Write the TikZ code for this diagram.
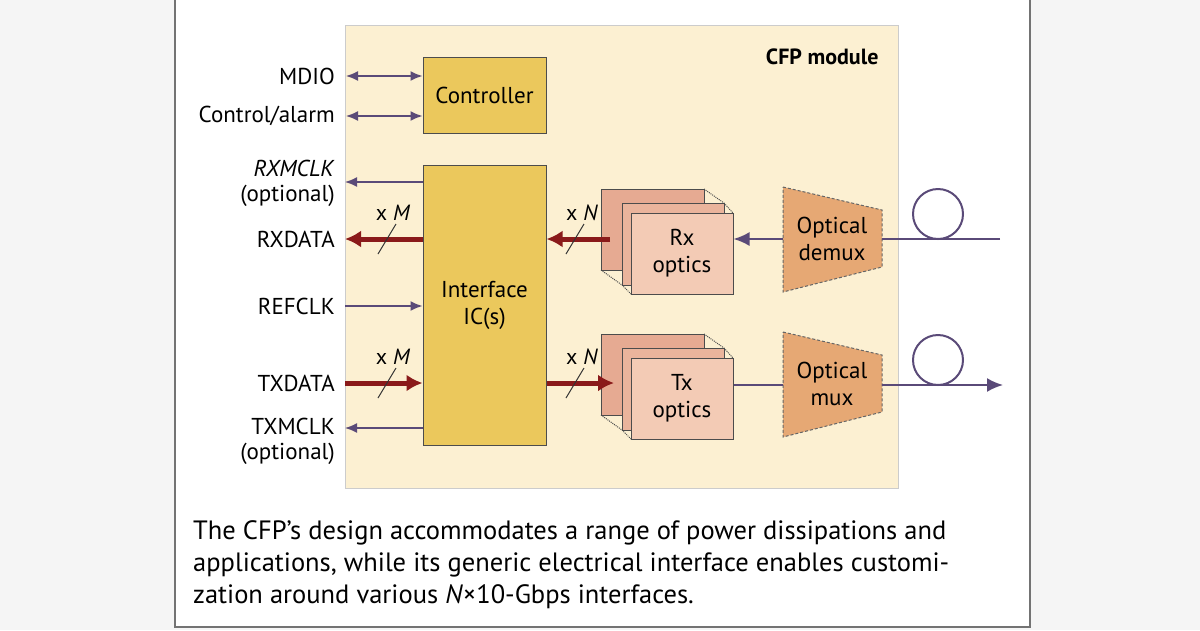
\documentclass[tikz,border=0pt]{standalone}
\usepackage{fontspec}
\setmainfont{PT Sans}
\usepackage{xcolor}
\definecolor{modfill}{HTML}{FCF0D2}
\definecolor{icfill}{HTML}{EBC85C}
\definecolor{optfront}{HTML}{F3CBB5}
\definecolor{optback}{HTML}{E6AA92}
\definecolor{muxfill}{HTML}{E6A874}
\definecolor{sig}{HTML}{5A4A78}
\definecolor{dat}{HTML}{8A1A1A}
\usetikzlibrary{arrows.meta}
\tikzset{
  blk/.style={draw=black!70,line width=1pt,fill=icfill},
  lbl/.style={font=\fontsize{23}{25}\selectfont,align=right,anchor=east,inner sep=0pt},
  sigline/.style={draw=sig,line width=1.6pt,-{Latex[length=12pt,width=10pt]}},
  datline/.style={draw=dat,line width=5pt,-{Latex[length=16pt,width=17pt]}},
  opt/.style={draw=black!70,line width=1pt},
  slash/.style={draw=black!80,line width=1pt},
}
\begin{document}
\begin{tikzpicture}[x=1pt,y=1pt,yscale=-1]
\useasboundingbox (0,0) rectangle (1200,630);
\fill[black!4] (0,0) rectangle (1200,630);
\fill[white] (175,0) rectangle (1030,627);
\draw[black!55,line width=1.5pt] (175,0) -- (175,627) -- (1030,627) -- (1030,0);
% module
\draw[fill=modfill,draw=black!20] (345,25) rectangle (898,488);
\node[font=\bfseries\fontsize{22}{24}\selectfont,anchor=east] (mod) at (882,57) {CFP module};
% blocks
\node[blk,minimum width=123pt,minimum height=76pt,font=\fontsize{23}{25}\selectfont] (ctrl) at (484.5,95) {Controller};
\node[blk,minimum width=123pt,minimum height=280pt,font=\fontsize{23}{27}\selectfont,align=center] (ic) at (484.5,305) {Interface\\IC(s)};
% optics stacks
\foreach \dy/\nm/\txt in {0/rx/Rx,145/tx/Tx}{
  \draw[opt,fill=optback] (601,189+\dy) rectangle (704,270+\dy);
  \draw[opt,densely dotted] (704,189+\dy) -- (724,203+\dy) (601,270+\dy) -- (622,285+\dy);
  \draw[opt,fill=optback!70!optfront] (622,203+\dy) rectangle (724,285+\dy);
  \draw[opt,densely dotted] (724,203+\dy) -- (733,213+\dy) (622,285+\dy) -- (631,294+\dy);
  \node[opt,fill=optfront,minimum width=102pt,minimum height=81pt,align=center,
        font=\fontsize{23}{27}\selectfont] (\nm) at (682,253.5+\dy) {\txt\\optics};
}
% mux / demux
\foreach \dy/\nm/\txt in {0/demux/demux,145/mux/mux}{
  \draw[black!60,line width=1pt,dash pattern=on 3pt off 2pt,fill=muxfill]
    (783,187+\dy) -- (882,210+\dy) -- (882,267+\dy) -- (783,292+\dy) -- cycle;
  \node[font=\fontsize{23}{27}\selectfont,align=center] (\nm) at (832,239+\dy) {Optical\\\txt};
}
% fibres
\coordinate (fibin) at (1000,239);
\coordinate (fibout) at (1003,385);
\draw[sig,line width=2pt] (fibin) -- (882,239);
\draw[sig,line width=2pt] (938,214) circle (25);
\draw[sig,line width=2pt,-{Latex[length=16pt,width=14pt]}] (882,385) -- (fibout);
\draw[sig,line width=2pt] (938,360) circle (25);
\draw[sigline,line width=2pt,-{Latex[length=16pt,width=14pt]}] (783,239) -- (rx.east|-0,239);
\draw[sig,line width=2pt] (tx.east|-0,385) -- (783,385);
% data paths
\draw[datline] (610,239) -- (ic.east|-0,239);
\draw[slash] (566,254) -- (584,224);
\node[font=\fontsize{22}{24}\selectfont] (nrx) at (582,213) {x \textit{N}};
\draw[datline] (ic.east|-0,383) -- (614,383);
\draw[slash] (566,398) -- (584,368);
\node[font=\fontsize{22}{24}\selectfont] (ntx) at (582,357) {x \textit{N}};
\draw[datline] (ic.west|-0,239) -- (345,239);
\draw[slash] (378,254) -- (396,224);
\node[font=\fontsize{22}{24}\selectfont] (mrx) at (393,213) {x \textit{M}};
\draw[datline] (345,383) -- (ic.west|-0,383);
\draw[slash] (378,398) -- (396,368);
\node[font=\fontsize{22}{24}\selectfont] (mtx) at (393,357) {x \textit{M}};
% left signals
\node[lbl] (mdio) at (335,76) {MDIO};
\node[lbl] (ca) at (335,116) {Control/alarm};
\node[lbl] (rxclk) at (335,183) {\textit{RXMCLK}\\(optional)};
\node[lbl] (rxd) at (335,239) {RXDATA};
\node[lbl] (ref) at (335,306) {REFCLK};
\node[lbl] (txd) at (335,383) {TXDATA};
\node[lbl] (txclk) at (335,441) {TXMCLK\\(optional)};
\draw[sigline,{Latex[length=12pt,width=10pt]}-{Latex[length=12pt,width=10pt]}] (346,76) -- (ctrl.west|-0,76);
\draw[sigline,{Latex[length=12pt,width=10pt]}-{Latex[length=12pt,width=10pt]}] (346,116) -- (ctrl.west|-0,116);
\draw[sigline] (ic.west|-0,182) -- (345,182);
\draw[sigline] (345,306) -- (ic.west|-0,306);
\draw[sigline] (ic.west|-0,428) -- (345,428);
% caption
\node[anchor=north west,align=left,inner sep=0pt,font=\fontsize{26.5}{32}\selectfont] (cap) at (193,520)
{The CFP’s design accommodates a range of power dissipations and\\
applications, while its generic electrical interface enables customi-\\
zation around various \textit{N}×10-Gbps interfaces.};
\end{tikzpicture}
\end{document}
